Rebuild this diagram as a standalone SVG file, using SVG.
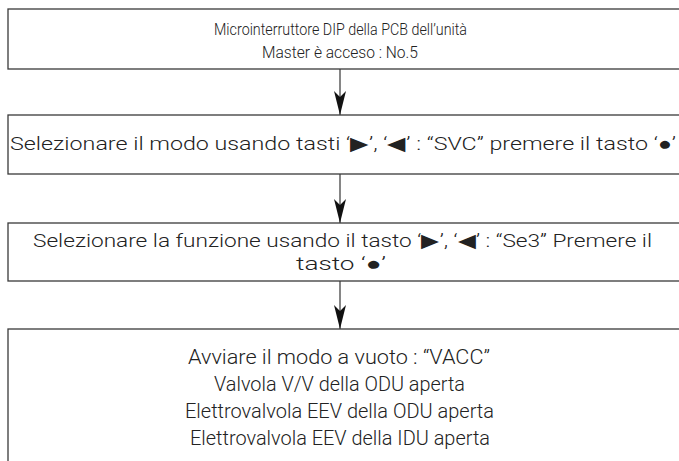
<svg xmlns="http://www.w3.org/2000/svg" width="679" height="461" viewBox="0 0 679 461">
<defs>
<style>
.box{fill:#fff;stroke:#3a3a3a;stroke-width:1.3}
.t{font-family:Roboto,"Liberation Sans",Arial,sans-serif;font-weight:300;fill:#222;text-anchor:middle}
.s1{font-size:17px}
.s2{font-size:18.5px}
.s4{font-size:19.5px}
.c{stroke:#222;stroke-width:1.1;fill:none}
</style>
<marker id="ah" viewBox="0 0 24 12" refX="24" refY="6" markerWidth="24" markerHeight="12" markerUnits="userSpaceOnUse" orient="auto">
<path d="M0,0 L24,6 L0,12 L6,6 Z" fill="#111"/>
</marker>
</defs>
<rect width="679" height="461" fill="#fff"/>
<g id="connectors">
<line class="c" x1="340" y1="69" x2="340" y2="115" marker-end="url(#ah)"/>
<line class="c" x1="340" y1="174" x2="340" y2="223" marker-end="url(#ah)"/>
<line class="c" x1="340" y1="281" x2="340" y2="329" marker-end="url(#ah)"/>
</g>
<g id="node1">
<rect class="box" x="8" y="9" width="690" height="60"/>
<text class="t s1" x="340.5" y="35" textLength="253" lengthAdjust="spacingAndGlyphs">Microinterruttore DIP della PCB dell’unità</text>
<text class="t s1" x="340" y="58" textLength="156" lengthAdjust="spacingAndGlyphs">Master è acceso : No.5</text>
</g>
<g id="node2">
<rect class="box" x="8" y="115" width="690" height="59"/>
<text class="t s2" x="343" y="150" textLength="666" lengthAdjust="spacingAndGlyphs">Selezionare il modo usando tasti ‘▶’, ‘◀’ : “SVC” premere il tasto ‘●’</text>
</g>
<g id="node3">
<rect class="box" x="8" y="223" width="690" height="58"/>
<text class="t s2" x="342.5" y="247" textLength="619" lengthAdjust="spacingAndGlyphs">Selezionare la funzione usando il tasto ‘▶’, ‘◀’ : “Se3” Premere il</text>
<text class="t s2" x="341" y="270" textLength="90" lengthAdjust="spacingAndGlyphs">tasto ‘●’</text>
</g>
<g id="node4">
<rect class="box" x="8" y="329" width="690" height="145"/>
<text class="t s4" x="339" y="364" textLength="302" lengthAdjust="spacingAndGlyphs">Avviare il modo a vuoto : “VACC”</text>
<text class="t s4" x="339.5" y="391" textLength="251" lengthAdjust="spacingAndGlyphs">Valvola V/V della ODU aperta</text>
<text class="t s4" x="339.5" y="418" textLength="309" lengthAdjust="spacingAndGlyphs">Elettrovalvola EEV della ODU aperta</text>
<text class="t s4" x="340" y="445" textLength="300" lengthAdjust="spacingAndGlyphs">Elettrovalvola EEV della IDU aperta</text>
</g>
</svg>
